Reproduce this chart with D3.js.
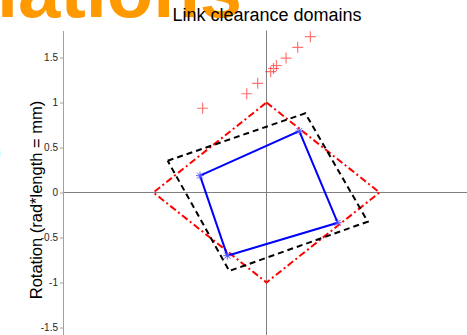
<!DOCTYPE html>
<html>
<head>
<meta charset="utf-8">
<script src="https://cdn.jsdelivr.net/npm/d3@7"></script>
<style>
  html, body { margin: 0; padding: 0; background: #fff; overflow: hidden; }
  svg { display: block; }
</style>
</head>
<body>
<svg id="chart" width="467" height="335"></svg>
<script>
// Link clearance domains: rotation-limit regions in normalised coordinates
const yTickValues = [-1.5, -1, -0.5, 0, 0.5, 1, 1.5];
const yTickLabels = ["-1.5", "-1", "-0.5", "0", "0.5", "1", "1.5"];

// |x| + |y| <= 1 domain (red dash-dot)
const diamondX = [0, 1, 0, -1, 0];
const diamondY = [1, 0, -1, 0, 1];

// rotated square domain (black dashed)
const squareX = [-0.874, 0.343, 0.896, -0.329, -0.874];
const squareY = [0.353, 0.880, -0.324, -0.872, 0.353];

// link corner positions (blue, with * markers)
const linkX = [-0.588, 0.290, 0.630, -0.347, -0.588];
const linkY = [0.187, 0.683, -0.336, -0.702, 0.187];

// sampled configurations (red +)
const sampleX = [-0.565, -0.175, -0.078, 0.037, 0.062, 0.088, 0.173, 0.276, 0.388];
const sampleY = [0.936, 1.097, 1.213, 1.342, 1.378, 1.411, 1.494, 1.613, 1.731];

const svg = d3.select("#chart");

const x = d3.scaleLinear().domain([-1.8, 1.8]).range([63, 470]);
const y = d3.scaleLinear().domain([-1.8, 1.8]).range([354.5, 30.5]);

// slide heading fragment behind the figure
svg.append("text")
  .attr("x", -3).attr("y", 17)
  .attr("font-family", "Liberation Sans, Arial, sans-serif")
  .attr("font-weight", "bold")
  .attr("font-size", 76)
  .attr("fill", "#ff9900")
  .text("lations");

svg.append("text")
  .attr("x", -9).attr("y", 157)
  .attr("font-family", "Liberation Sans, Arial, sans-serif")
  .attr("font-weight", "bold")
  .attr("font-size", 16)
  .attr("fill", "#1f5fbf")
  .text("n");

// zero lines
svg.append("line")
  .attr("x1", x(0)).attr("x2", x(0))
  .attr("y1", y(1.8)).attr("y2", y(-1.8))
  .attr("stroke", "#808080").attr("stroke-width", 1);
svg.append("line")
  .attr("x1", x(-1.8)).attr("x2", x(1.8))
  .attr("y1", y(0)).attr("y2", y(0))
  .attr("stroke", "#808080").attr("stroke-width", 1);

// left axis
const yAxis = d3.axisLeft(y)
  .tickValues(yTickValues)
  .tickFormat((d, i) => yTickLabels[i])
  .tickSizeInner(3)
  .tickSizeOuter(0)
  .tickPadding(2);
const gy = svg.append("g").attr("transform", `translate(${x(-1.8)},0)`).call(yAxis);
gy.select(".domain").attr("stroke", "#a0a0a0");
gy.selectAll(".tick line").attr("stroke", "#a0a0a0");
gy.selectAll(".tick text")
  .attr("font-family", "Liberation Sans, Arial, sans-serif")
  .attr("font-size", 10)
  .attr("fill", "#262626");

// titles
svg.append("text")
  .attr("x", 267).attr("y", 20.5)
  .attr("text-anchor", "middle")
  .attr("font-family", "Liberation Sans, Arial, sans-serif")
  .attr("font-size", 18)
  .attr("fill", "#000")
  .text("Link clearance domains");

svg.append("text")
  .attr("transform", "translate(41.5,200) rotate(-90)")
  .attr("text-anchor", "middle")
  .attr("font-family", "Liberation Sans, Arial, sans-serif")
  .attr("font-size", 16.5)
  .attr("fill", "#000")
  .text("Rotation (rad*length = mm)");

const line = d3.line().x(d => x(d[0])).y(d => y(d[1]));
const pts = (xs, ys) => xs.map((v, i) => [v, ys[i]]);

svg.append("path")
  .attr("d", line(pts(diamondX, diamondY)))
  .attr("fill", "none").attr("stroke", "#ff0000")
  .attr("stroke-width", 2).attr("stroke-dasharray", "7,3,2,3");

svg.append("path")
  .attr("d", line(pts(squareX, squareY)))
  .attr("fill", "none").attr("stroke", "#000")
  .attr("stroke-width", 2).attr("stroke-dasharray", "6,4");

svg.append("path")
  .attr("d", line(pts(linkX, linkY)))
  .attr("fill", "none").attr("stroke", "#0000ff")
  .attr("stroke-width", 2);

// * markers at link corners
const star = svg.append("g").attr("stroke", "#5a5aff").attr("stroke-width", 1);
pts(linkX, linkY).slice(0, 4).forEach(([a, b]) => {
  const cx = x(a), cy = y(b), r = 4, q = 3;
  star.append("path")
    .attr("d", `M${cx - r},${cy}H${cx + r}M${cx},${cy - r}V${cy + r}` +
               `M${cx - q},${cy - q}L${cx + q},${cy + q}M${cx - q},${cy + q}L${cx + q},${cy - q}`);
});

// + markers for samples
const plus = svg.append("g").attr("stroke", "#ff0000").attr("stroke-opacity", 0.55).attr("stroke-width", 1.2);
pts(sampleX, sampleY).forEach(([a, b]) => {
  const cx = x(a), cy = y(b), r = 5.5;
  plus.append("path").attr("d", `M${cx - r},${cy}H${cx + r}M${cx},${cy - r}V${cy + r}`);
});
</script>
</body>
</html>
